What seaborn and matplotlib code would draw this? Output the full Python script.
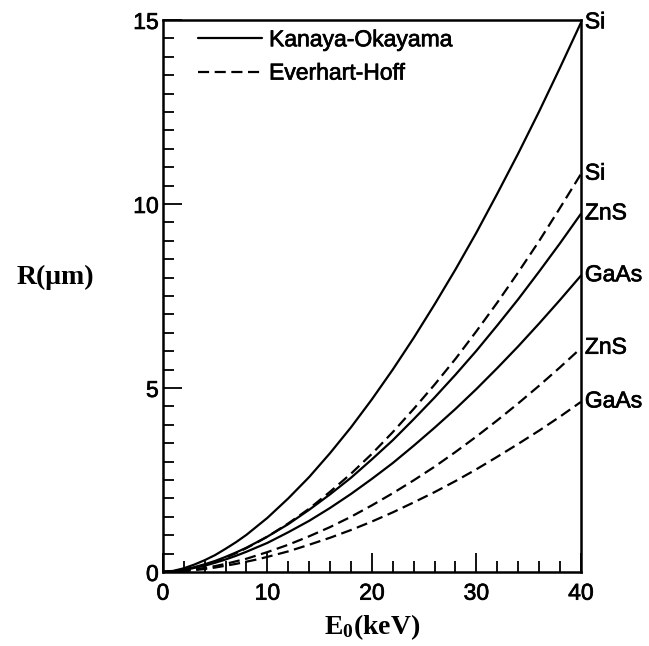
import numpy as np
import pandas as pd
import matplotlib
matplotlib.use("Agg")
import matplotlib.pyplot as plt
import matplotlib.patheffects as pe
from matplotlib.lines import Line2D
from matplotlib.ticker import MultipleLocator
import seaborn as sns

# Beam energy (keV) at which the ranges are tabulated
energy = [0, 1, 2, 3, 4, 5, 6, 7, 8, 9, 10, 12, 14, 16, 18, 20,
          22, 24, 26, 28, 30, 32, 34, 36, 38, 40]

# Electron range R (um), Kanaya-Okayama
ko_si = [0, 0.03, 0.10, 0.20, 0.32, 0.46, 0.63, 0.81, 1.01, 1.24, 1.47, 2.00, 2.58,
         3.23, 3.93, 4.69, 5.50, 6.36, 7.27, 8.22, 9.22, 10.28, 11.37, 12.51, 13.70, 14.92]
ko_zns = [0, 0.02, 0.07, 0.13, 0.21, 0.30, 0.41, 0.53, 0.66, 0.81, 0.96, 1.30, 1.69,
          2.11, 2.56, 3.06, 3.58, 4.15, 4.74, 5.36, 6.01, 6.70, 7.41, 8.16, 8.93, 9.73]
ko_gaas = [0, 0.02, 0.05, 0.11, 0.17, 0.25, 0.34, 0.44, 0.55, 0.67, 0.79, 1.08, 1.39,
           1.74, 2.12, 2.53, 2.96, 3.43, 3.92, 4.43, 4.97, 5.54, 6.13, 6.75, 7.39, 8.05]

# Electron range R (um), Everhart-Hoff
eh_si = [0, 0.02, 0.06, 0.12, 0.19, 0.28, 0.39, 0.51, 0.65, 0.80, 0.96, 1.32, 1.72,
         2.18, 2.67, 3.21, 3.80, 4.43, 5.09, 5.79, 6.54, 7.32, 8.14, 8.99, 9.89, 10.81]
eh_zns = [0, 0.01, 0.03, 0.07, 0.11, 0.16, 0.22, 0.29, 0.36, 0.45, 0.54, 0.74, 0.97,
          1.22, 1.50, 1.81, 2.14, 2.49, 2.86, 3.26, 3.68, 4.12, 4.58, 5.06, 5.56, 6.08]
eh_gaas = [0, 0.01, 0.02, 0.05, 0.08, 0.12, 0.17, 0.22, 0.28, 0.34, 0.41, 0.56, 0.74,
           0.93, 1.14, 1.37, 1.62, 1.89, 2.17, 2.47, 2.79, 3.13, 3.48, 3.84, 4.22, 4.62]

models = ["Kanaya-Okayama", "Everhart-Hoff"]
series = {
    ("Kanaya-Okayama", "Si"): ko_si,
    ("Kanaya-Okayama", "ZnS"): ko_zns,
    ("Kanaya-Okayama", "GaAs"): ko_gaas,
    ("Everhart-Hoff", "Si"): eh_si,
    ("Everhart-Hoff", "ZnS"): eh_zns,
    ("Everhart-Hoff", "GaAs"): eh_gaas,
}

rows = []
for (model, mat), vals in series.items():
    for e, r in zip(energy, vals):
        rows.append({"model": model, "material": mat, "E": e, "R": r})
df = pd.DataFrame(rows)

sns.set_theme(style="white")
plt.rcParams["font.family"] = ["Liberation Sans", "DejaVu Sans"]
plt.rcParams["mathtext.fontset"] = "custom"
plt.rcParams["mathtext.rm"] = "Liberation Serif:bold"
plt.rcParams["mathtext.bf"] = "Liberation Serif:bold"
plt.rcParams["mathtext.it"] = "Liberation Serif:bold"
plt.rcParams["axes.labelcolor"] = "black"
plt.rcParams["text.color"] = "black"

SANS = 16.5
SERIF = 20
DASH = (5, 2.5)
LW = 1.6
heavy = [pe.withStroke(linewidth=0.5, foreground="black")]

fig = plt.figure(figsize=(6.49, 6.46), dpi=100)
ax = fig.add_axes([0.251, 0.1146, 0.644, 0.8545])

sns.lineplot(
    data=df, x="E", y="R", units="material", style="model",
    style_order=models, estimator=None, color="black", linewidth=LW,
    dashes={"Kanaya-Okayama": "", "Everhart-Hoff": DASH},
    legend=False, ax=ax,
)

ax.set_xlim(0, 40)
ax.set_ylim(0, 15)

# curve end labels just outside the right spine
for (model, mat), vals in series.items():
    ax.annotate(mat, xy=(energy[-1], vals[-1]), xytext=(4, 1),
                textcoords="offset pixels", ha="left", va="center",
                fontsize=SANS, color="black", annotation_clip=False,
                path_effects=heavy)

ax.xaxis.set_major_locator(MultipleLocator(10))
ax.xaxis.set_minor_locator(MultipleLocator(2))
ax.yaxis.set_major_locator(MultipleLocator(5))
ax.yaxis.set_minor_locator(MultipleLocator(0.5))
ax.tick_params(which="both", direction="in", bottom=True, left=True,
               top=False, right=False, color="black", width=1.3,
               labelsize=SANS, labelcolor="black")
ax.tick_params(which="major", length=14)
ax.tick_params(which="minor", length=8)
ax.tick_params(axis="x", which="major", pad=7)
ax.tick_params(axis="y", which="major", pad=3)
for lab in ax.get_xticklabels() + ax.get_yticklabels():
    lab.set_path_effects(heavy)

for side in ["left", "bottom", "top", "right"]:
    ax.spines[side].set_visible(True)
    ax.spines[side].set_color("black")
    ax.spines[side].set_linewidth(1.8)

ax.set_xlabel("E$_{0}$(keV)", fontsize=SERIF, fontweight="bold", color="black",
              family=["Liberation Serif", "DejaVu Serif"])
ax.xaxis.set_label_coords(0.5, -0.1)
ax.xaxis.label.set_va("center")
ax.set_ylabel("R(μm)", fontsize=SERIF, fontweight="bold", rotation=0, color="black",
              family=["Liberation Serif", "DejaVu Serif"])
ax.yaxis.set_label_coords(-0.258, 0.533)
ax.yaxis.label.set_va("center")
ax.yaxis.label.set_ha("center")

handles = [
    Line2D([], [], color="black", linewidth=LW, linestyle="-"),
    Line2D([], [], color="black", linewidth=LW, linestyle=(0, DASH)),
]
leg = ax.legend(handles, models, loc="upper left", bbox_to_anchor=(0.084, 0.985),
                frameon=False, fontsize=SANS, handlelength=2.8, handletextpad=0.3,
                labelspacing=0.45, borderpad=0, borderaxespad=0)
for t in leg.get_texts():
    t.set_color("black")
    t.set_path_effects(heavy)

fig.savefig("out.png", dpi=100)
